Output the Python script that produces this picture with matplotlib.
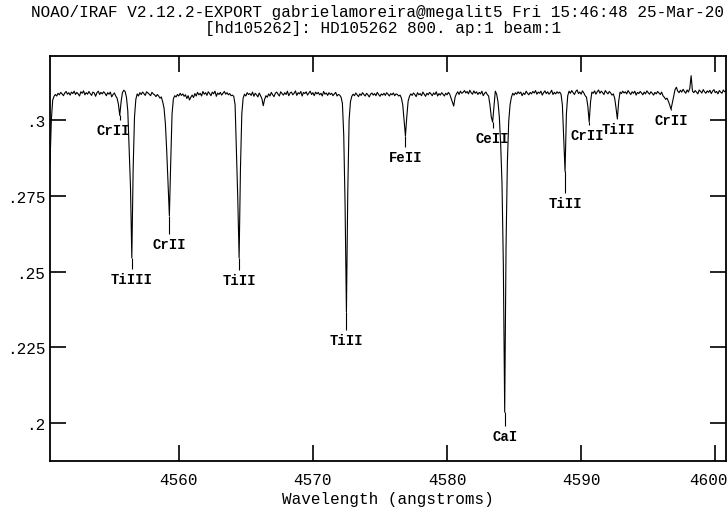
import numpy as np
import matplotlib
matplotlib.use('Agg')
import matplotlib.pyplot as plt
import matplotlib.transforms as mtransforms

# spectrum, 0.1 A steps from 4550.4 to 4600.8, flux in units of 1e-4
wave = np.round(np.arange(4550.4, 4600.85, 0.1), 1)
flux_e4 = [
    2855, 3000, 3065, 3078, 3084, 3079, 3088, 3083, 3091, 3086,  # 4550.4
    3080, 3089, 3094, 3085, 3090, 3082, 3092, 3087, 3095, 3084,  # 4551.4
    3091, 3086, 3079, 3093, 3088, 3096, 3083, 3090, 3085, 3094,  # 4552.4
    3087, 3081, 3092, 3089, 3078, 3090, 3095, 3084, 3091, 3086,  # 4553.4
    3093, 3088, 3080, 3090, 3085, 3092, 3076, 3084, 3089, 3079,  # 4554.4
    3072, 3052, 3015, 3060, 3090, 3098, 3094, 3075, 3030, 2900,  # 4555.4
    2780, 2545, 2840, 3010, 3068, 3086, 3079, 3090, 3084, 3092,  # 4556.4
    3087, 3081, 3093, 3089, 3085, 3080, 3091, 3086, 3083, 3077,  # 4557.4
    3084, 3079, 3072, 3076, 3060, 3040, 2990, 2900, 2790, 2684,  # 4558.4
    2860, 3020, 3070, 3080, 3076, 3084, 3079, 3088, 3081, 3086,  # 4559.4
    3078, 3083, 3071, 3080, 3066, 3075, 3082, 3074, 3087, 3079,  # 4560.4
    3091, 3083, 3088, 3079, 3094, 3085, 3090, 3081, 3093, 3087,  # 4561.4
    3080, 3092, 3086, 3095, 3078, 3089, 3084, 3091, 3082, 3088,  # 4562.4
    3094, 3085, 3090, 3083, 3087, 3080, 3082, 3078, 3050, 2900,  # 4563.4
    2740, 2545, 2840, 3020, 3072, 3085, 3079, 3090, 3084, 3087,  # 4564.4
    3081, 3092, 3078, 3088, 3083, 3076, 3089, 3080, 3070, 3047,  # 4565.4
    3068, 3080, 3075, 3086, 3079, 3091, 3083, 3077, 3088, 3092,  # 4566.4
    3085, 3079, 3093, 3087, 3082, 3090, 3084, 3095, 3080, 3089,  # 4567.4
    3092, 3083, 3088, 3096, 3081, 3090, 3086, 3094, 3079, 3091,  # 4568.4
    3087, 3093, 3082, 3089, 3095, 3084, 3090, 3080, 3092, 3086,  # 4569.4
    3091, 3083, 3088, 3079, 3094, 3085, 3089, 3081, 3090, 3084,  # 4570.4
    3088, 3080, 3086, 3091, 3079, 3084, 3082, 3075, 3055, 2950,  # 4571.4
    2720, 2366, 2760, 3000, 3060, 3078, 3085, 3080, 3089, 3083,  # 4572.4
    3077, 3086, 3081, 3090, 3084, 3079, 3088, 3083, 3076, 3085,  # 4573.4
    3089, 3082, 3087, 3080, 3091, 3084, 3078, 3086, 3082, 3088,  # 4574.4
    3081, 3090, 3085, 3079, 3087, 3083, 3089, 3080, 3086, 3084,  # 4575.4
    3079, 3082, 3072, 3050, 3000, 2947, 3010, 3062, 3078, 3086,  # 4576.4
    3081, 3089, 3084, 3077, 3090, 3083, 3087, 3080, 3092, 3085,  # 4577.4
    3078, 3088, 3083, 3091, 3086, 3080, 3089, 3084, 3093, 3079,  # 4578.4
    3087, 3082, 3090, 3085, 3079, 3088, 3083, 3091, 3085, 3072,  # 4579.4
    3060, 3046, 3075, 3086, 3093, 3084, 3095, 3088, 3091, 3097,  # 4580.4
    3089, 3094, 3086, 3098, 3090, 3085, 3096, 3088, 3093, 3084,  # 4581.4
    3091, 3086, 3095, 3080, 3088, 3092, 3084, 3079, 3050, 3010,  # 4582.4
    2993, 3045, 3095, 3085, 3060, 3010, 2920, 2790, 2520, 2036,  # 4583.4
    2580, 2860, 2995, 3050, 3075, 3088, 3082, 3090, 3085, 3093,  # 4584.4
    3087, 3092, 3080, 3089, 3084, 3095, 3088, 3083, 3091, 3086,  # 4585.4
    3094, 3089, 3097, 3085, 3092, 3088, 3095, 3082, 3090, 3096,  # 4586.4
    3087, 3093, 3085, 3090, 3098, 3084, 3091, 3086, 3093, 3088,  # 4587.4
    3092, 3085, 3050, 2940, 2830, 3020, 3080, 3095, 3088, 3097,  # 4588.4
    3090, 3084, 3094, 3099, 3087, 3092, 3085, 3096, 3089, 3080,  # 4589.4
    3075, 3045, 2993, 3060, 3092, 3088, 3096, 3085, 3093, 3099,  # 4590.4
    3088, 3095, 3090, 3084, 3097, 3091, 3086, 3094, 3089, 3082,  # 4591.4
    3086, 3072, 3040, 3003, 3062, 3092, 3087, 3095, 3089, 3093,  # 4592.4
    3086, 3097, 3090, 3084, 3093, 3088, 3095, 3082, 3091, 3087,  # 4593.4
    3094, 3089, 3083, 3092, 3086, 3096, 3090, 3085, 3093, 3088,  # 4594.4
    3082, 3091, 3086, 3094, 3089, 3084, 3092, 3080, 3075, 3068,  # 4595.4
    3072, 3062, 3050, 3035, 3056, 3078, 3100, 3108, 3095, 3090,  # 4596.4
    3098, 3092, 3101, 3094, 3088, 3099, 3092, 3104, 3146, 3095,  # 4597.4
    3090, 3097, 3092, 3086, 3099, 3094, 3089, 3100, 3093, 3088,  # 4598.4
    3096, 3091, 3098, 3087, 3095, 3100, 3090, 3094, 3086, 3097,  # 4599.4
    3092, 3088, 3099, 3093, 3096,                                # 4600.4
]
flux = np.array(flux_e4) / 1e4

# identified lines
line_names = ['CrII', 'TiIII', 'CrII', 'TiII', 'TiII', 'FeII', 'CeII', 'CaI',
              'TiII', 'CrII', 'TiII', 'CrII']
line_wave = [4555.6, 4556.5, 4559.3, 4564.5, 4572.5, 4576.9, 4583.4, 4584.3,
             4588.8, 4590.6, 4592.7, 4596.7]

# where the labels sit (flux units)
label_y = [0.2967, 0.2475, 0.2590, 0.2472, 0.2273, 0.2878, 0.2941, 0.1956,
           0.2726, 0.2950, 0.2970, 0.3000]
label_dx = [-0.5, 0, 0, 0, 0, 0, 0, 0, 0, -0.15, 0.1, 0]

xticks = [4560, 4570, 4580, 4590, 4600]
yticks = [0.2, 0.225, 0.25, 0.275, 0.3]
ytick_labels = ['.2', '.225', '.25', '.275', '.3']

font = 'Liberation Mono'
plt.rcParams['font.family'] = [font, 'DejaVu Sans Mono']

fig = plt.figure(figsize=(7.28, 5.10), dpi=100)
ax = fig.add_axes([50 / 728, 1 - 462 / 510, 676 / 728, 405 / 510])

ax.plot(wave, flux, color='black', lw=0.8)

line_min = np.interp(line_wave, wave, flux)
for name, w, ly, dx, lm in zip(line_names, line_wave, label_y, label_dx, line_min):
    ax.vlines(w, ly + 0.0033, lm, color='black', lw=0.8)
    ax.text(w + dx, ly, name, ha='center', va='center', fontsize=10,
            fontweight='bold')

ax.set_xlim(4550.4, 4600.8)
ax.set_ylim(0.1875, 0.3211)
ax.set_xticks(xticks)
ax.set_xticklabels([str(t) for t in xticks])
ax.set_yticks(yticks)
ax.set_yticklabels(ytick_labels)
ax.tick_params(direction='in', length=11.5, width=1.2, top=True, right=True,
               labelsize=11.5)
ax.tick_params(axis='x', pad=8)
ax.tick_params(axis='y', pad=3.5)
for s in ax.spines.values():
    s.set_linewidth(1.3)

# last x label sits against the right edge
last = ax.get_xticklabels()[-1]
last.set_ha('right')
last.set_transform(last.get_transform() +
                   mtransforms.ScaledTranslation(12 / 100, 0, fig.dpi_scale_trans))

ax.set_xlabel('Wavelength (angstroms)', fontsize=11.5, labelpad=3)

fig.text(377 / 728, 1 - 13 / 510,
         'NOAO/IRAF V2.12.2-EXPORT gabrielamoreira@megalit5 Fri 15:46:48 25-Mar-20',
         ha='center', va='center', fontsize=11.5)
fig.text(383 / 728, 1 - 28 / 510, '[hd105262]: HD105262 800. ap:1 beam:1',
         ha='center', va='center', fontsize=11.5)

fig.savefig('out.png', dpi=100)
